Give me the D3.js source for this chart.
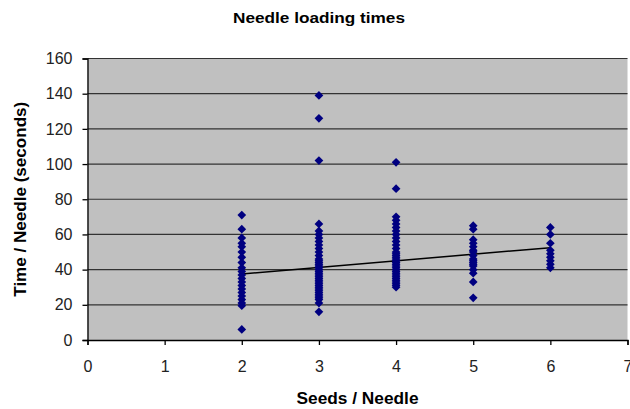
<!DOCTYPE html>
<html>
<head>
<meta charset="utf-8">
<script src="https://cdn.jsdelivr.net/npm/d3@7"></script>
<style>
  body { margin: 0; background: #fff; }
  text { font-family: "Liberation Sans", Arial, sans-serif; }
</style>
</head>
<body>
<div id="chart"></div>
<script>
//////////////////////////// DATA
// seeds per needle (x) and the loading times read off for each column
var seeds = [2, 3, 4, 5, 6];
var times2 = [71, 63, 58, 55, 53, 50, 47, 44, 41, 39, 37, 35, 33, 31, 29, 27, 25, 23, 21, 19.5, 6];
var times3 = [139, 126, 102, 66, 62, 60, 58, 56, 54, 52, 50, 48, 46, 45, 44, 43, 42, 41, 40, 39, 38, 37,
              36, 35, 34, 33, 32, 31, 30, 29, 28, 27, 26, 25, 24, 23, 21, 16];
var times4 = [101, 86, 70, 68, 66, 64, 62, 60, 58, 56, 54, 52, 50, 49, 48, 47, 46, 45, 44, 43, 42, 41,
              40, 39, 38, 37, 36, 35, 34, 33, 32, 31, 30];
var times5 = [65, 63, 57, 55, 53, 51, 50, 48, 46, 45, 44, 43, 42, 40, 38, 33, 24];
var times6 = [64, 60, 55, 51, 49, 47, 45, 43, 41];
// linear trend line end points
var trendX = [2, 6];
var trendY = [37.5, 52.5];
var xTicks = [0, 1, 2, 3, 4, 5, 6, 7];
var yTicks = [0, 20, 40, 60, 80, 100, 120, 140, 160];

var svgWidth = 630;
var svgHeight = 409;
var margin = {top: 58.5, right: 2.5, bottom: 69, left: 87.5},
    width = svgWidth - margin.left - margin.right,
    height = svgHeight - margin.top - margin.bottom;

var svg = d3.select("#chart")
  .append("svg")
    .attr("width", svgWidth)
    .attr("height", svgHeight);

var g = svg.append("g")
    .attr("transform", "translate(" + margin.left + "," + margin.top + ")");

var x = d3.scaleLinear().domain([0, 7]).range([0, width]);
var y = d3.scaleLinear().domain([0, 160]).range([height, 0]);

// flatten columns into points
var columns = [times2, times3, times4, times5, times6];
var points = [];
seeds.forEach(function(s, i) {
  columns[i].forEach(function(t) { points.push({x: s, y: t}); });
});

// plot area
g.append("rect")
  .attr("width", width)
  .attr("height", height)
  .style("fill", "#c0c0c0");

// gridlines
g.selectAll(".grid")
  .data(yTicks.filter(function(d) { return d > 0; }))
  .enter().append("line")
    .attr("x1", 0).attr("x2", width)
    .attr("y1", function(d) { return y(d); })
    .attr("y2", function(d) { return y(d); })
    .style("stroke", "#333")
    .style("stroke-width", 1.2);

// axes
var yAxis = g.append("g")
  .call(d3.axisLeft(y).tickValues(yTicks).tickFormat(d3.format("d")).tickSize(5).tickPadding(10));
var xAxis = g.append("g")
  .attr("transform", "translate(0," + height + ")")
  .call(d3.axisBottom(x).tickValues(xTicks).tickFormat(d3.format("d")).tickSize(5).tickPadding(16));

[xAxis, yAxis].forEach(function(a) {
  a.select(".domain").style("stroke", "#000").style("stroke-width", 1.3);
  a.selectAll(".tick line").style("stroke", "#000").style("stroke-width", 1.3);
  a.selectAll(".tick text")
    .style("font-size", "16px")
    .style("fill", "#222")
    .style("font-family", '"Liberation Sans", Arial, sans-serif');
});

// trend line
g.append("line")
  .attr("x1", x(trendX[0])).attr("y1", y(trendY[0]))
  .attr("x2", x(trendX[1])).attr("y2", y(trendY[1]))
  .style("stroke", "#000")
  .style("stroke-width", 1.5);

// diamonds
var diamond = d3.symbol().type(d3.symbolSquare).size(38);
g.selectAll(".pt")
  .data(points)
  .enter().append("path")
    .attr("d", diamond)
    .attr("transform", function(d) { return "translate(" + x(d.x) + "," + y(d.y) + ")rotate(45)"; })
    .style("fill", "#000080");

// titles
svg.append("text")
  .attr("x", 319).attr("y", 23)
  .attr("text-anchor", "middle")
  .attr("textLength", 172).attr("lengthAdjust", "spacingAndGlyphs")
  .style("font-size", "15px")
  .style("font-weight", "bold")
  .text("Needle loading times");

svg.append("text")
  .attr("x", margin.left + width / 2).attr("y", 404)
  .attr("text-anchor", "middle")
  .attr("textLength", 122).attr("lengthAdjust", "spacingAndGlyphs")
  .style("font-size", "16px")
  .style("font-weight", "bold")
  .text("Seeds / Needle");

svg.append("text")
  .attr("text-anchor", "middle")
  .attr("transform", "translate(26," + (margin.top + height / 2) + ")rotate(-90)")
  .attr("textLength", 195).attr("lengthAdjust", "spacingAndGlyphs")
  .style("font-size", "16px")
  .style("font-weight", "bold")
  .text("Time / Needle (seconds)");
</script>
</body>
</html>
